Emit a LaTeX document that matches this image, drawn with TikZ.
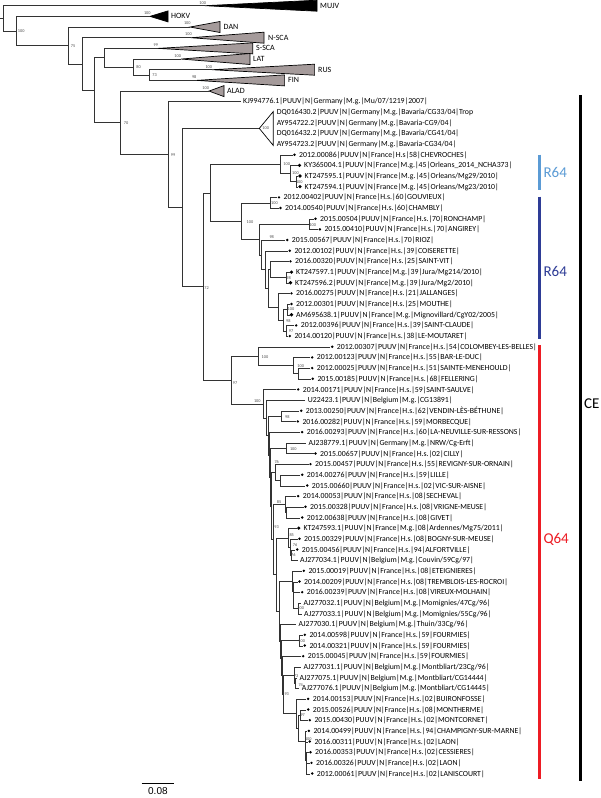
\documentclass[tikz,border=0pt]{standalone}
\usepackage{fontspec}
\setmainfont{Carlito}
\newfontfamily\scalefont{Liberation Sans}
\usetikzlibrary{calc}
\definecolor{triGray}{RGB}{165,155,155}
\definecolor{rlight}{RGB}{91,155,213}
\definecolor{rdark}{RGB}{46,60,150}
\definecolor{qred}{RGB}{237,28,36}
\newcommand\lfsize{\fontsize{7.8}{8.5}\selectfont}
\tikzset{
 br/.style={line width=0.7pt, draw=black!80},
 mk/.style={fill=black},
 leaf/.style={font=\lfsize, anchor=west, inner sep=0pt, text=black},
 bsl/.style={font=\fontsize{4.3}{4.5}\selectfont, inner sep=0pt, text=black!70},
 tri/.style={draw=black, line width=0.7pt, line join=miter},
 cl/.style={font=\fontsize{8}{9}\selectfont, anchor=west, inner sep=0pt},
 grp/.style={font=\fontsize{15}{17}\selectfont, anchor=west, inner sep=0pt},
 bar/.style={line width=3pt},
}
% leaf with round marker
\newcommand\leafc[4]{%
  \coordinate (#1) at (#3,{5.7+10.67*#2});
  \fill[mk] ($(#1)+(2,-0.4)$) circle[radius=1.35];
  \node[leaf] (#1t) at ($(#1)+(6.5,0)$) {#4};}
% leaf with diamond marker
\newcommand\leafd[4]{%
  \coordinate (#1) at (#3,{5.7+10.67*#2});
  \fill[mk] ($(#1)+(2,-0.4)$) +(-1.8,0) -- +(0,-1.8) -- +(1.8,0) -- +(0,1.8) -- cycle;
  \node[leaf] (#1t) at ($(#1)+(6.5,0)$) {#4};}
% leaf without marker
\newcommand\leafn[4]{%
  \coordinate (#1) at (#3,{5.7+10.67*#2});
  \node[leaf] (#1t) at ($(#1)+(2.5,0)$) {#4};}
% internal node: name, x, child1, child2
\newcommand\tn[4]{%
  \path (#2,0) coordinate (#1xx) ($(#3)!.5!(#4)$) coordinate (#1yy);
  \coordinate (#1) at (#1xx |- #1yy);
  \draw[br] (#3) -- (#3 -| #1) -- (#4 -| #1) -- (#4);}
\newcommand\bs[4]{\node[bsl] (#1) at (#2,#3) {#4};}
\begin{document}
\begin{tikzpicture}[x=1pt,y=-1pt]
\fill[white] (0,0) rectangle (600,798);
\useasboundingbox (0,0) rectangle (600,798);

% ---------- collapsed clades ----------
\coordinate (MUJV) at (205,5.7);
\filldraw[tri, fill=black] (MUJV) -- (317,0.2) -- (317,11.2) -- cycle;
\node[cl] (MUJVt) at (320,5.7) {MUJV};
\coordinate (HOKV) at (150,16.37);
\filldraw[tri, fill=black] (HOKV) -- (168,10.9) -- (168,21.9) -- cycle;
\node[cl] (HOKVt) at (171,16.37) {HOKV};
\coordinate (DAN) at (190,27.04);
\filldraw[tri, fill=triGray] (DAN) -- (220,21.5) -- (220,32.5) -- cycle;
\node[cl] (DANt) at (223.5,27.04) {DAN};
\coordinate (NSCA) at (191,37.71);
\filldraw[tri, fill=triGray] (NSCA) -- (264,32.2) -- (264,43.2) -- cycle;
\node[cl] (NSCAt) at (268,37.71) {N-SCA};
\coordinate (SSCA) at (158,48.38);
\filldraw[tri, fill=triGray] (SSCA) -- (252.7,42.9) -- (252.7,53.9) -- cycle;
\node[cl] (SSCAt) at (256,48.38) {S-SCA};
\coordinate (LAT) at (181,59.05);
\filldraw[tri, fill=triGray] (LAT) -- (250,53.5) -- (250,64.5) -- cycle;
\node[cl] (LATt) at (253,59.05) {LAT};
\coordinate (RUS) at (212,69.72);
\filldraw[tri, fill=triGray] (RUS) -- (314.6,64.2) -- (314.6,75.2) -- cycle;
\node[cl] (RUSt) at (318,69.72) {RUS};
\coordinate (FIN) at (196.5,80.39);
\filldraw[tri, fill=triGray] (FIN) -- (284.6,74.9) -- (284.6,85.9) -- cycle;
\node[cl] (FINt) at (288,80.39) {FIN};
\coordinate (ALAD) at (209,91.06);
\filldraw[tri, fill=triGray] (ALAD) -- (224,85.6) -- (224,96.6) -- cycle;
\node[cl] (ALADt) at (227,91.06) {ALAD};
\coordinate (BAV) at (259.3,128.4);
\filldraw[tri, fill=white] (BAV) -- (273.3,111.5) -- (273.3,145.5) -- cycle;

% ---------- leaves ----------
\leafn{L1}{9}{240.5}{KJ994776.1|PUUV|N|Germany|M.g.|Mu/07/1219|2007|}
\leafn{L2}{10}{274.2}{DQ016430.2|PUUV|N|Germany|M.g.|Bavaria/CG33/04|Trop}
\leafn{L3}{11}{274.2}{AY954722.2|PUUV|N|Germany|M.g.|Bavaria-CG9/04|}
\leafn{L4}{12}{274.2}{DQ016432.2|PUUV|N|Germany|M.g.|Bavaria/CG41/04|}
\leafn{L5}{13}{274.2}{AY954723.2|PUUV|N|Germany|M.g.|Bavaria-CG34/04|}
\leafc{L6}{14}{292.5}{2012.00086|PUUV|N|France|H.s|58|CHEVROCHES|}
\leafd{L7}{15}{297.5}{KY365004.1|PUUV|N|France|M.g.|45|Orleans\_2014\_NCHA373|}
\leafd{L8}{16}{298}{KT247595.1|PUUV|N|France|M.g.|45|Orleans/Mg29/2010|}
\leafd{L9}{17}{298}{KT247594.1|PUUV|N|France|M.g.|45|Orleans/Mg23/2010|}
\leafc{L10}{18}{277}{2012.00402|PUUV|N|France|H.s.|60|GOUVIEUX|}
\leafc{L11}{19}{278.5}{2014.00540|PUUV|N|France|H.s.|60|CHAMBLY|}
\leafc{L12}{20}{313.5}{2015.00504|PUUV|N|France|H.s.|70|RONCHAMP|}
\leafc{L13}{21}{317.8}{2015.00410|PUUV|N|France|H.s.|70|ANGIREY|}
\leafc{L14}{22}{285.2}{2015.00567|PUUV|N|France|H.s.|70|RIOZ|}
\leafc{L15}{23}{287.8}{2012.00102|PUUV|N|France|H.s.|39|COISERETTE|}
\leafc{L16}{24}{288.5}{2016.00320|PUUV|N|France|H.s.|25|SAINT-VIT|}
\leafd{L17}{25}{289.5}{KT247597.1|PUUV|N|France|M.g.|39|Jura/Mg214/2010|}
\leafd{L18}{26}{288.5}{KT247596.2|PUUV|N|France|M.g.|39|Jura/Mg2/2010|}
\leafc{L19}{27}{289.5}{2016.00275|PUUV|N|France|H.s.|21|JALLANGES|}
\leafc{L20}{28}{289.5}{2012.00301|PUUV|N|France|H.s.|25|MOUTHE|}
\leafd{L21}{29}{289.5}{AM695638.1|PUUV|N|France|M.g.|Mignovillard/CgY02/2005|}
\leafc{L22}{30}{294.2}{2012.00396|PUUV|N|France|H.s.|39|SAINT-CLAUDE|}
\leafc{L23}{31}{287.8}{2014.00120|PUUV|N|France|H.s.|38|LE-MOUTARET|}
\leafc{L24}{32}{330.2}{2012.00307|PUUV|N|France|H.s.|54|COLOMBEY-LES-BELLES|}
\leafc{L25}{33}{310.2}{2012.00123|PUUV|N|France|H.s.|55|BAR-LE-DUC|}
\leafc{L26}{34}{310.2}{2012.00025|PUUV|N|France|H.s.|51|SAINTE-MENEHOULD|}
\leafc{L27}{35}{310.8}{2015.00185|PUUV|N|France|H.s.|68|FELLERING|}
\leafc{L28}{36}{296.2}{2014.00171|PUUV|N|France|H.s.|59|SAINT-SAULVE|}
\leafn{L29}{37}{305.2}{U22423.1|PUUV|N|Belgium|M.g.|CG13891|}
\leafc{L30}{38}{299.2}{2013.00250|PUUV|N|France|H.s.|62|VENDIN-LÈS-BÉTHUNE|}
\leafc{L31}{39}{295.8}{2016.00282|PUUV|N|France|H.s.|59|MORBECQUE|}
\leafc{L32}{40}{300.2}{2016.00293|PUUV|N|France|H.s.|60|LA-NEUVILLE-SUR-RESSONS|}
\leafn{L33}{41}{305.8}{AJ238779.1|PUUV|N|Germany|M.g.|NRW/Cg-Erft|}
\leafc{L34}{42}{313.5}{2015.00657|PUUV|N|France|H.s.|02|CILLY|}
\leafc{L35}{43}{308.5}{2015.00457|PUUV|N|France|H.s.|55|REVIGNY-SUR-ORNAIN|}
\leafc{L36}{44}{300.2}{2014.00276|PUUV|N|France|H.s.|59|LILLE|}
\leafc{L37}{45}{305.2}{2015.00660|PUUV|N|France|H.s.|02|VIC-SUR-AISNE|}
\leafc{L38}{46}{296.2}{2014.00053|PUUV|N|France|H.s.|08|SECHEVAL|}
\leafc{L39}{47}{303.5}{2015.00328|PUUV|N|France|H.s.|08|VRIGNE-MEUSE|}
\leafc{L40}{48}{300.2}{2012.00638|PUUV|N|France|H.s.|08|GIVET|}
\leafd{L41}{49}{296.8}{KT247593.1|PUUV|N|France|M.g.|08|Ardennes/Mg75/2011|}
\leafc{L42}{50}{297.5}{2015.00329|PUUV|N|France|H.s.|08|BOGNY-SUR-MEUSE|}
\leafc{L43}{51}{295.2}{2015.00456|PUUV|N|France|H.s.|94|ALFORTVILLE|}
\leafn{L44}{52}{297.5}{AJ277034.1|PUUV|N|Belgium|M.g.|Couvin/59Cg/97|}
\leafc{L45}{53}{301.8}{2015.00019|PUUV|N|France|H.s.|08|ETEIGNIERES|}
\leafc{L46}{54}{297.5}{2014.00209|PUUV|N|France|H.s.|08|TREMBLOIS-LES-ROCROI|}
\leafc{L47}{55}{300.2}{2016.00239|PUUV|N|France|H.s.|08|VIREUX-MOLHAIN|}
\leafn{L48}{56}{300.8}{AJ277032.1|PUUV|N|Belgium|M.g.|Momignies/47Cg/96|}
\leafn{L49}{57}{301.5}{AJ277033.1|PUUV|N|Belgium|M.g.|Momignies/55Cg/96|}
\leafn{L50}{58}{295.8}{AJ277030.1|PUUV|N|Belgium|M.g.|Thuin/33Cg/96|}
\leafc{L51}{59}{302.8}{2014.00598|PUUV|N|France|H.s.|59|FOURMIES|}
\leafc{L52}{60}{302.8}{2014.00321|PUUV|N|France|H.s.|59|FOURMIES|}
\leafc{L53}{61}{301.2}{2015.00045|PUUV|N|France|H.s.|59|FOURMIES|}
\leafn{L54}{62}{300.8}{AJ277031.1|PUUV|N|Belgium|M.g.|Montbliart/23Cg/96|}
\leafn{L55}{63}{296.8}{AJ277075.1|PUUV|N|Belgium|M.g.|Montbliart/CG14444|}
\leafn{L56}{64}{299.2}{AJ277076.1|PUUV|N|Belgium|M.g.|Montbliart/CG14445|}
\leafc{L57}{65}{306.2}{2014.00153|PUUV|N|France|H.s.|02|BUIRONFOSSE|}
\leafc{L58}{66}{306.2}{2015.00526|PUUV|N|France|H.s.|08|MONTHERME|}
\leafc{L59}{67}{307.8}{2015.00430|PUUV|N|France|H.s.|02|MONTCORNET|}
\leafc{L60}{68}{306.8}{2014.00499|PUUV|N|France|H.s.|94|CHAMPIGNY-SUR-MARNE|}
\leafc{L61}{69}{307.8}{2016.00311|PUUV|N|France|H.s.|02|LAON|}
\leafc{L62}{70}{308.5}{2016.00353|PUUV|N|France|H.s.|02|CESSIERES|}
\leafc{L63}{71}{309.5}{2016.00326|PUUV|N|France|H.s.|02|LAON|}
\leafc{L64}{72}{310.2}{2012.00061|PUUV|N|France|H.s.|02|LANISCOURT|}

% ---------- internal nodes (bottom-up) ----------
\tn{R3}{296.5}{L8}{L9}
\tn{R2}{290}{L7}{R3}
\tn{R1}{280.5}{L6}{R2}
\tn{P1}{270.7}{L10}{L11}
\tn{Q1}{309.3}{L12}{L13}
\tn{Qd1}{286}{L17}{L18}
\tn{Qd}{270}{L16}{Qd1}
\tn{Qg}{287.5}{L20}{L21}
\tn{Qh}{286}{L22}{L23}
\tn{Qf}{283}{Qg}{Qh}
\tn{Qe}{278.3}{L19}{Qf}
\tn{Qc}{268}{Qd}{Qe}
\tn{Qb}{265}{L15}{Qc}
\tn{Qa}{261.5}{L14}{Qb}
\tn{Q}{259}{Q1}{Qa}
\tn{N2}{241.7}{P1}{Q}
\tn{N1}{210}{R1}{N2}
\tn{M1b}{298.3}{L26}{L27}
\tn{M1a}{293.3}{L25}{M1b}
\tn{M1}{258.3}{L24}{M1a}
\tn{pA}{281}{L30}{L31}
\tn{pB}{286.7}{L33}{L34}
\tn{pC}{280}{L36}{L37}
\tn{W}{275}{L35}{pC}
\tn{S2}{286.5}{L39}{L40}
\tn{S1}{285}{L38}{S2}
\tn{V3}{291.5}{L43}{L44}
\tn{V2}{290}{L42}{V3}
\tn{V1}{288.5}{L41}{V2}
\tn{pD}{298.3}{L48}{L49}
\tn{G3}{293.5}{L47}{pD}
\tn{G2}{293}{L46}{G3}
\tn{G1}{292.5}{L45}{G2}
\tn{pE}{299.3}{L51}{L52}
\tn{X2}{295.5}{L55}{L56}
\tn{X1}{294}{L54}{X2}
\tn{pF}{300.5}{L58}{L59}
\tn{Y6}{306.5}{L63}{L64}
\tn{Y5}{306}{L62}{Y6}
\tn{Y4}{305.5}{L61}{Y5}
\tn{Y3}{305}{L60}{Y4}
\tn{Y2}{298}{pF}{Y3}
\tn{Y1}{296.7}{L57}{Y2}
\tn{Z}{283}{X1}{Y1}
\tn{C6}{282}{L53}{Z}
\tn{C5}{281}{pE}{C6}
\tn{C4}{280}{L50}{C5}
\tn{C3}{279}{G1}{C4}
\tn{C2}{276}{V1}{C3}
\tn{C1}{273}{S1}{C2}
\tn{M7}{271}{W}{C1}
\tn{M6}{270}{pB}{M7}
\tn{M5}{269}{L32}{M6}
\tn{M4}{268}{pA}{M5}
\tn{M3}{266.5}{L29}{M4}
\tn{M2}{263}{L28}{M3}
\tn{M}{231.7}{M1}{M2}
\tn{K}{203}{N1}{M}
\tn{J}{182.5}{BAV}{K}
\tn{I}{168.3}{L1}{J}
\tn{H}{120}{ALAD}{I}
\tn{G}{149}{RUS}{FIN}
\tn{F}{133}{LAT}{G}
\tn{E}{104}{SSCA}{F}
\tn{D}{94}{E}{H}
\tn{C}{82}{NSCA}{D}
\tn{B}{68.5}{DAN}{C}
\tn{A}{16}{HOKV}{B}
\tn{root}{3.8}{MUJV}{A}
\path (root) ++(-3.8,0) coordinate (stub);
\draw[br] (stub) -- (root);

% ---------- support values ----------
\bs{b01}{21.2}{31.3}{100}
\bs{b02}{73}{45.7}{75}
\bs{b03}{202.7}{2.7}{100}
\bs{b04}{147.3}{13.3}{100}
\bs{b05}{187.3}{23}{100}
\bs{b06}{188.5}{33.7}{100}
\bs{b07}{155.8}{45}{99}
\bs{b08}{177.7}{56}{100}
\bs{b09}{138.5}{67.3}{80}
\bs{b10}{208.8}{66.7}{100}
\bs{b11}{154.6}{75}{73}
\bs{b12}{194.2}{77.3}{98}
\bs{b13}{205.7}{88.3}{100}
\bs{b14}{126}{123}{70}
\bs{b15}{173}{155.3}{99}
\bs{b16}{265.7}{128.5}{100}
\bs{b17}{206.5}{288}{72}
\bs{b18}{286.7}{164}{100}
\bs{b19}{295.5}{173.5}{100}
\bs{b20}{299.3}{182}{100}
\bs{b21}{274.5}{202.8}{100}
\bs{b22}{250}{222.5}{100}
\bs{b23}{312.7}{225.5}{100}
\bs{b24}{271.7}{237.3}{98}
\bs{b25}{288.5}{278}{98}
\bs{b26}{291}{309.5}{100}
\bs{b27}{288.3}{321}{98}
\bs{b28}{291}{331}{97}
\bs{b29}{265}{356.7}{100}
\bs{b30}{300.7}{366}{100}
\bs{b31}{235}{383.3}{97}
\bs{b32}{257.3}{401.5}{100}
\bs{b33}{287.3}{416.7}{98}
\bs{b34}{293.3}{449}{100}
\bs{b35}{276.7}{461.7}{76}
\bs{b36}{279}{502}{85}
\bs{b37}{276.5}{526.7}{93}
\bs{b38}{291.7}{535}{85}
\bs{b39}{295}{545}{76}
\bs{b40}{293.3}{555}{76}
\bs{b41}{300.7}{607.7}{100}
\bs{b42}{301.7}{640.7}{100}
\bs{b43}{296}{676}{73}
\bs{b44}{300.7}{685}{74}
\bs{b45}{286.7}{694.3}{93}
\bs{b46}{302.7}{715}{97}
\bs{b47}{308.3}{739}{100}

% ---------- group bars ----------
\coordinate (r64a) at (539.3,154.6);
\coordinate (r64b) at (539.3,190.2);
\coordinate (r64c) at (539.3,196.5);
\coordinate (r64d) at (539.3,338.7);
\coordinate (q64a) at (539.3,345);
\coordinate (q64b) at (539.3,779);
\coordinate (cea) at (580,95);
\coordinate (ceb) at (580,781);
\draw[bar, rlight] (r64a) -- (r64b);
\draw[bar, rdark] (r64c) -- (r64d);
\draw[bar, qred] (q64a) -- (q64b);
\draw[bar, black] (cea) -- (ceb);
\node[grp, text=rlight] (r64lt) at (543.3,172.6) {R64};
\node[grp, text=rdark] (r64dt) at (543.3,271.8) {R64};
\node[grp, text=qred] (q64t) at (543.3,539.6) {Q64};
\node[grp, text=black] (cet) at (584,404) {CE};

% ---------- scale bar ----------
\coordinate (sb1) at (141.7,783.3);
\coordinate (sb2) at (174,783.3);
\draw[line width=0.9pt] (sb1) -- (sb2);
\node[font=\scalefont\fontsize{10}{12}\selectfont, inner sep=0pt] (sbl) at (157.9,791.5) {0.08};
\end{tikzpicture}
\end{document}
